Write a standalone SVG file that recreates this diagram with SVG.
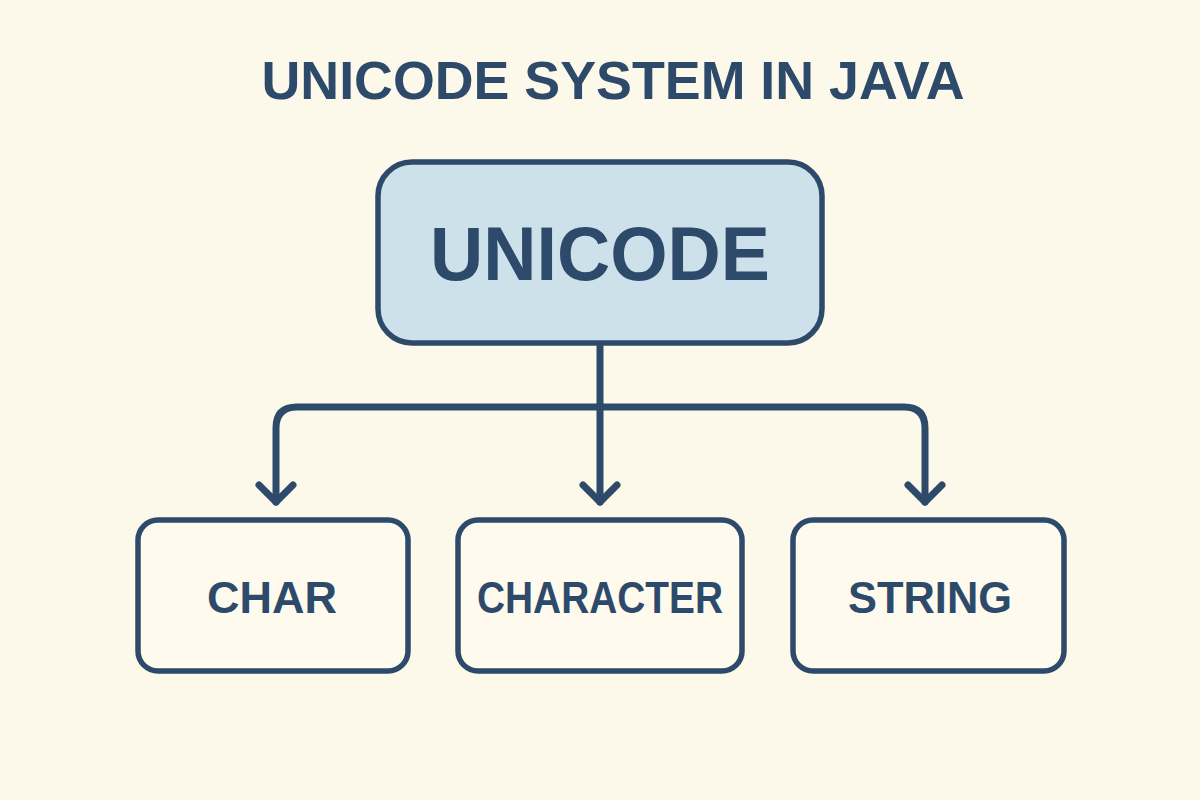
<svg xmlns="http://www.w3.org/2000/svg" width="1200" height="800" viewBox="0 0 1200 800">
<style>
.bg{fill:#fdf9ea}
.box{stroke:#2e4a6b;stroke-width:5.5}
.top{fill:#cde1ea}
.leaf{fill:#fefaed}
.t{font-family:"Liberation Sans",Arial,sans-serif;font-weight:bold;fill:#2e4a6b;text-anchor:middle}
.conn{fill:none;stroke:#2e4a6b;stroke-width:7;stroke-linecap:round;stroke-linejoin:round}
</style>
<rect class="bg" x="0" y="0" width="1200" height="800"/>
<text class="t" x="613" y="99" font-size="53" textLength="703" lengthAdjust="spacingAndGlyphs">UNICODE SYSTEM IN JAVA</text>
<g id="connectors">
<path class="conn" d="M600 344 V502"/>
<path class="conn" d="M276 502 V428 Q276 407 297 407 H904 Q925 407 925 428 V502"/>
<path class="conn" d="M259 485 L276 502 L293 485"/>
<path class="conn" d="M583 485 L600 502 L617 485"/>
<path class="conn" d="M908 485 L925 502 L942 485"/>
</g>
<g id="unicode">
<rect class="box top" x="378" y="162" width="444" height="181" rx="34"/>
<text class="t" x="600" y="280" font-size="76" textLength="340" lengthAdjust="spacingAndGlyphs">UNICODE</text>
</g>
<g id="char">
<rect class="box leaf" x="138" y="520" width="270" height="151" rx="20"/>
<text class="t" x="272" y="613" font-size="44" textLength="130" lengthAdjust="spacingAndGlyphs">CHAR</text>
</g>
<g id="character">
<rect class="box leaf" x="458" y="520" width="284" height="151" rx="20"/>
<text class="t" x="600" y="613" font-size="44" textLength="246" lengthAdjust="spacingAndGlyphs">CHARACTER</text>
</g>
<g id="string">
<rect class="box leaf" x="793" y="520" width="271" height="151" rx="20"/>
<text class="t" x="930" y="613" font-size="44" textLength="164" lengthAdjust="spacingAndGlyphs">STRING</text>
</g>
</svg>
